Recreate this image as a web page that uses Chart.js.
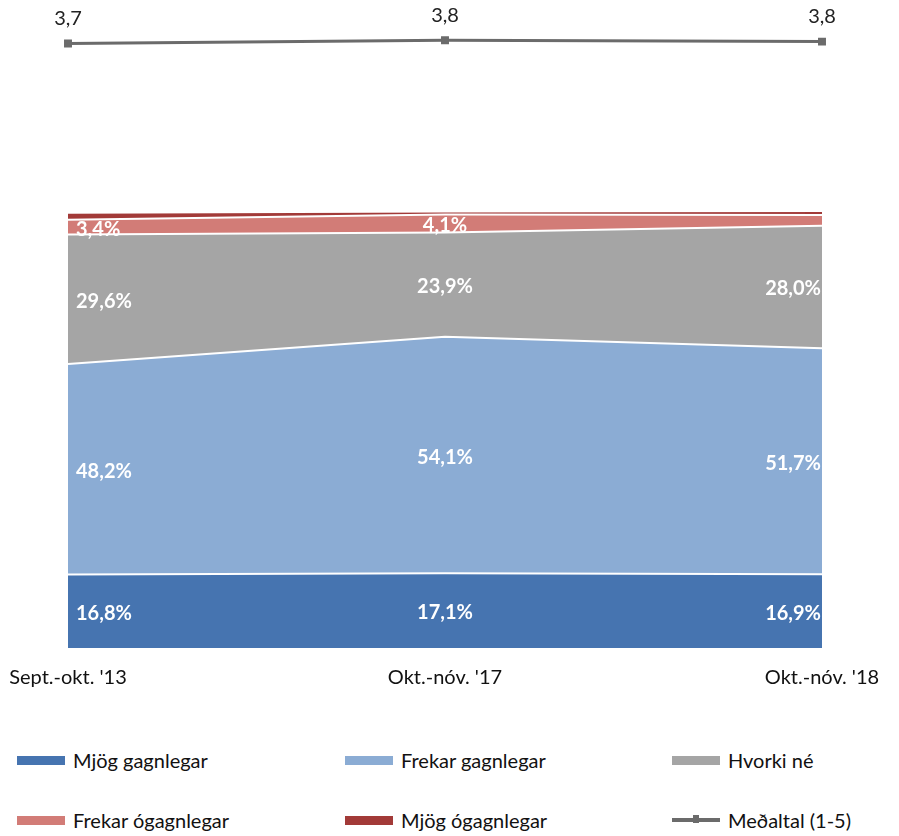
<!DOCTYPE html>
<html>
<head>
<meta charset="utf-8">
<script src="https://cdn.jsdelivr.net/npm/chart.js@4/dist/chart.umd.min.js"></script>
<style>
  body { margin: 0; background: #fff; font-family: Lato, "Open Sans", sans-serif; }
  #wrap { position: relative; width: 899px; height: 836px; }
  #legend { position: absolute; left: 0; top: 730px; width: 899px; height: 106px; }
  .item { position: absolute; display: flex; align-items: center; font-size: 20px; color: #111; }
  .swatch { width: 48px; height: 9px; margin-right: 8px; position: relative; }
  .swatch.line { height: 4px; }
  .swatch.line i { position: absolute; left: 21px; top: -3px; width: 6px; height: 8px; background: inherit; }
</style>
</head>
<body>
<div id="wrap">
  <canvas id="myChart" width="899" height="700"></canvas>
  <div id="legend"></div>
</div>
<script>
  // categories
  var periods = ["Sept.-okt. '13", "Okt.-nóv. '17", "Okt.-nóv. '18"];

  // shares in %, bottom to top
  var mjogGagnlegar = [16.8, 17.1, 16.9];
  var frekarGagnlegar = [48.2, 54.1, 51.7];
  var hvorkiNe = [29.6, 23.9, 28.0];
  var frekarOgagnlegar = [3.4, 4.1, 2.5];
  var mjogOgagnlegar = [1.6, 0.7, 0.9];

  // mean on a 1-5 scale
  var medaltal = [3.72, 3.79, 3.76];

  var fmt = function (v, d) { return v.toFixed(d).replace('.', ','); };

  function area(label, values, color, first) {
    return {
      type: 'line',
      label: label,
      data: values,
      yAxisID: 'y',
      backgroundColor: color,
      borderColor: '#ffffff',
      borderWidth: 2,
      pointRadius: 0,
      tension: 0,
      fill: first ? 'origin' : '-1'
    };
  }

  var datasets = [
    area('Mjög gagnlegar', mjogGagnlegar, '#4674b0', true),
    area('Frekar gagnlegar', frekarGagnlegar, '#8bacd4'),
    area('Hvorki né', hvorkiNe, '#a5a5a5'),
    area('Frekar ógagnlegar', frekarOgagnlegar, '#d27c77'),
    area('Mjög ógagnlegar', mjogOgagnlegar, '#a23a38'),
    {
      type: 'line',
      label: 'Meðaltal (1-5)',
      data: medaltal,
      yAxisID: 'y2',
      borderColor: '#6b6b6b',
      backgroundColor: '#6b6b6b',
      borderWidth: 3,
      pointStyle: 'rect',
      pointRadius: 3.5,
      tension: 0,
      fill: false
    }
  ];

  // value labels inside the areas and above the mean line
  var labelPlugin = {
    id: 'valueLabels',
    afterDatasetsDraw: function (chart) {
      var c = chart.ctx;
      var ys = chart.scales.y;
      c.save();
      c.textBaseline = 'middle';
      for (var d = 0; d < 4; d++) {
        var meta = chart.getDatasetMeta(d);
        meta.data.forEach(function (pt, i) {
          var v = chart.data.datasets[d].data[i];
          if (v < 3) return;
          var base = 0;
          for (var k = 0; k < d; k++) base += chart.data.datasets[k].data[i];
          var y = (ys.getPixelForValue(base) + ys.getPixelForValue(base + v)) / 2 + 2;
          var x = pt.x;
          c.textAlign = 'center';
          if (i === 0) { c.textAlign = 'left'; x += 8; }
          if (i === meta.data.length - 1) { c.textAlign = 'right'; x -= 1; }
          c.font = 'bold 20px Lato';
          c.fillStyle = '#ffffff';
          c.fillText(fmt(v, 1) + '%', x, y);
        });
      }
      var m = chart.getDatasetMeta(5);
      m.data.forEach(function (pt, i) {
        c.font = '20px Lato';
        c.fillStyle = '#222';
        c.textAlign = 'center';
        c.fillText(fmt(medaltal[i], 1), pt.x, pt.y - 25);
      });
      c.restore();
    }
  };

  var ctx = document.getElementById('myChart');
  var chart = new Chart(ctx, {
    type: 'line',
    data: { labels: periods, datasets: datasets },
    plugins: [labelPlugin],
    options: {
      responsive: false,
      animation: false,
      devicePixelRatio: 1,
      layout: { padding: { left: 68, right: 77, top: 29, bottom: 11 } },
      plugins: { legend: { display: false }, tooltip: { enabled: false } },
      scales: {
        x: {
          offset: false,
          grid: { display: false },
          border: { display: false },
          ticks: { color: '#111', font: { family: 'Lato', size: 20 }, padding: 10, maxRotation: 0 },
          afterFit: function (s) { s.paddingLeft = 0; s.paddingRight = 0; s.height = 41; }
        },
        y: {
          display: false,
          position: 'left',
          stack: 'main',
          stackWeight: 437,
          stacked: true,
          min: 0,
          max: 100
        },
        y2: {
          display: false,
          position: 'left',
          stack: 'main',
          stackWeight: 182,
          min: 0,
          max: 4.04
        }
      }
    }
  });

  // legend in three columns
  var legend = document.getElementById('legend');
  var cols = [17, 345, 672];
  var rows = [30, 90];
  chart.data.datasets.forEach(function (ds, i) {
    var el = document.createElement('div');
    el.className = 'item';
    el.style.left = cols[i % 3] + 'px';
    el.style.top = (rows[Math.floor(i / 3)] - 12) + 'px';
    var sw = document.createElement('span');
    if (ds.yAxisID === 'y2') {
      sw.className = 'swatch line';
      sw.style.background = ds.borderColor;
      sw.appendChild(document.createElement('i'));
    } else {
      sw.className = 'swatch';
      sw.style.background = ds.backgroundColor;
    }
    el.appendChild(sw);
    el.appendChild(document.createTextNode(ds.label));
    legend.appendChild(el);
  });
</script>
</body>
</html>
